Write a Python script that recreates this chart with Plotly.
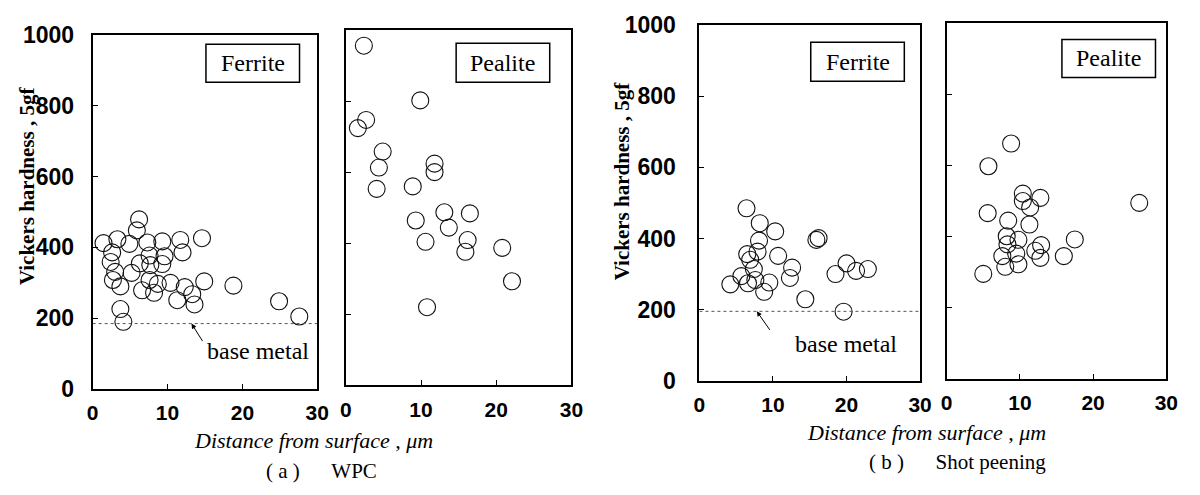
import plotly.graph_objects as go

W, H = 1200, 495

# ---------------- data ----------------
a_ferrite_x = [1.45, 3.3, 2.6, 2.4, 3.0, 2.7, 3.7, 4.9, 5.2, 6.2, 5.9, 7.3, 7.6, 7.7, 6.3, 6.6, 7.6, 8.2,
               9.3, 9.6, 9.3, 8.7, 10.4, 11.7, 12.0, 12.3, 11.3, 13.3, 13.6, 14.6, 14.9, 3.7, 4.1, 18.8, 24.9, 27.6]
a_ferrite_y = [412, 423, 386, 359, 331, 308, 290, 410, 328, 479, 448, 414, 377, 350, 355, 279, 308, 272,
               417, 375, 353, 297, 300, 421, 386, 288, 251, 268, 239, 426, 304, 226, 190, 292, 248, 205]

a_pealite_x = [2.4, 2.7, 1.6, 4.9, 4.4, 4.1, 9.9, 11.8, 11.8, 8.9, 9.3, 13.1, 13.7, 16.5, 10.6, 16.2, 15.9, 20.8, 22.1, 10.8]
a_pealite_y = [956, 747, 724, 658, 613, 553, 802, 624, 600, 560, 464, 487, 444, 484, 404, 409, 376, 387, 293, 220]

b_ferrite_x = [6.4, 8.2, 10.3, 8.1, 6.5, 6.9, 7.9, 7.4, 5.7, 4.2, 6.6, 7.6, 8.8, 9.5, 10.7, 12.6, 12.3,
               15.9, 16.2, 14.4, 18.5, 20.0, 21.3, 22.9, 19.6]
b_ferrite_y = [485, 443, 420, 394, 356, 340, 363, 314, 294, 271, 274, 283, 250, 276, 351, 318, 289,
               396, 401, 229, 300, 330, 309, 314, 194]

b_pealite_x = [8.8, 5.7, 10.4, 10.4, 12.8, 11.4, 5.6, 8.4, 11.3, 8.2, 9.8, 8.3, 12.9, 12.1, 9.5, 7.6,
               12.8, 8.0, 9.8, 5.0, 16.0, 17.5, 26.3]
b_pealite_y = [662, 598, 521, 500, 509, 482, 466, 445, 434, 401, 391, 378, 376, 360, 352, 345,
               340, 315, 322, 295, 345, 392, 495]

base_metal_a = 185
base_metal_b = 195

x_ticks = [0, 10, 20, 30]
y_ticks = [0, 200, 400, 600, 800, 1000]

panel_labels = ["Ferrite", "Pealite", "Ferrite", "Pealite"]
y_title = "Vickers hardness , 5gf"
x_title = "Distance from surface , \u03bcm"
captions = ["( a )\u2003\u2002WPC", "( b )\u2003\u2002Shot peening"]

# ---------------- layout helpers ----------------
def fx(p):
    return p / W

def fy(p):
    return 1 - p / H

# pixel boxes of the four plot areas: (left, right, top, bottom)
boxes = [(88, 316, 23, 397), (345, 574, 18, 393), (704, 928, 13, 388), (955, 1178, 11, 386)]

SANS = "Liberation Sans, Arial, sans-serif"
SERIF = "Liberation Serif, Times New Roman, serif"

series = [(a_ferrite_x, a_ferrite_y), (a_pealite_x, a_pealite_y),
          (b_ferrite_x, b_ferrite_y), (b_pealite_x, b_pealite_y)]

fig = go.Figure()
layout = dict(width=W, height=H, margin=dict(l=0, r=0, t=0, b=0),
              paper_bgcolor="white", plot_bgcolor="white", showlegend=False)

shapes = []
annotations = []

for i, ((xs, ys), (l, r, t, b)) in enumerate(zip(series, boxes)):
    n = i + 1
    xa = "x" if n == 1 else f"x{n}"
    ya = "y" if n == 1 else f"y{n}"
    fig.add_trace(go.Scatter(x=xs, y=ys, mode="markers", xaxis=xa, yaxis=ya,
                             marker=dict(symbol="circle-open", size=17, color="#111111",
                                         line=dict(width=1.1)),
                             cliponaxis=False))
    show_y = n in (1, 3)
    layout[f"xaxis{'' if n == 1 else n}"] = dict(
        domain=[fx(l), fx(r)], range=[0, 30], anchor=ya, tickvals=x_ticks,
        showline=True, mirror=True, linecolor="black", linewidth=2,
        ticks="inside", ticklen=5, tickcolor="black", showgrid=False, zeroline=False,
        ticklabelstandoff=4,
        tickfont=dict(family=SANS, size=21, color="black", weight="bold"),
        fixedrange=True)
    layout[f"yaxis{'' if n == 1 else n}"] = dict(
        domain=[fy(b), fy(t)], range=[0, 1000], anchor=xa, tickvals=y_ticks,
        showticklabels=show_y,
        showline=True, mirror=True, linecolor="black", linewidth=2,
        ticks="inside", ticklen=5, tickcolor="black", showgrid=False, zeroline=False,
        ticklabelstandoff=12 if n == 1 else 17,
        tickfont=dict(family=SANS, size=23, color="black", weight="bold"),
        fixedrange=True)

# legend-like boxes
label_boxes = [(203, 298, 33, 73), (457, 552, 32, 73), (817, 912, 31, 72), (1072, 1167, 28, 68)]
for txt, (l, r, t, b) in zip(panel_labels, label_boxes):
    shapes.append(dict(type="rect", xref="paper", yref="paper", x0=fx(l), x1=fx(r), y0=fy(b), y1=fy(t),
                       line=dict(color="black", width=1.5), fillcolor="white", layer="above"))
    annotations.append(dict(text=txt, xref="paper", yref="paper", x=fx((l + r) / 2), y=fy((t + b) / 2),
                            xanchor="center", yanchor="middle", showarrow=False,
                            font=dict(family=SERIF, size=24, color="black")))

# base metal lines
for xa, ya, val in (("x", "y", base_metal_a), ("x3", "y3", base_metal_b)):
    shapes.append(dict(type="line", xref=xa, yref=ya, x0=0, x1=30, y0=val, y1=val,
                       line=dict(color="#555", width=1, dash="dot")))

# base metal labels + arrows
annotations.append(dict(text="base metal", xref="paper", yref="paper", x=fx(256), y=fy(357),
                        xanchor="center", yanchor="middle", showarrow=False,
                        font=dict(family=SERIF, size=24, color="black")))
annotations.append(dict(text="", xref="x", yref="y", x=13.2, y=base_metal_a, ax=12, ay=19,
                        showarrow=True, arrowhead=2, arrowsize=1, arrowwidth=1, arrowcolor="black"))
annotations.append(dict(text="base metal", xref="paper", yref="paper", x=fx(853), y=fy(349),
                        xanchor="center", yanchor="middle", showarrow=False,
                        font=dict(family=SERIF, size=24, color="black")))
annotations.append(dict(text="", xref="x3", yref="y3", x=7.8, y=base_metal_b, ax=14, ay=20,
                        showarrow=True, arrowhead=2, arrowsize=1, arrowwidth=1, arrowcolor="black"))

# axis titles
for cx, cy in ((22, 182), (625, 177)):
    annotations.append(dict(text=y_title, xref="paper", yref="paper", x=fx(cx), y=fy(cy),
                            xanchor="center", yanchor="middle", showarrow=False, textangle=-90,
                            font=dict(family=SERIF, size=21, color="black", weight="bold")))
for cx, cy in ((312, 451), (935, 443)):
    annotations.append(dict(text=x_title, xref="paper", yref="paper", x=fx(cx), y=fy(cy),
                            xanchor="center", yanchor="middle", showarrow=False,
                            font=dict(family=SERIF, size=22, color="black", style="italic")))
for txt, (cx, cy) in zip(captions, ((320, 483), (966, 474))):
    annotations.append(dict(text=txt, xref="paper", yref="paper", x=fx(cx), y=fy(cy),
                            xanchor="center", yanchor="middle", showarrow=False,
                            font=dict(family=SERIF, size=21, color="black")))

layout["shapes"] = shapes
layout["annotations"] = annotations
fig.update_layout(**layout)
fig.write_html("out.html", post_script="document.body.style.margin='0';document.body.style.padding='0';")
